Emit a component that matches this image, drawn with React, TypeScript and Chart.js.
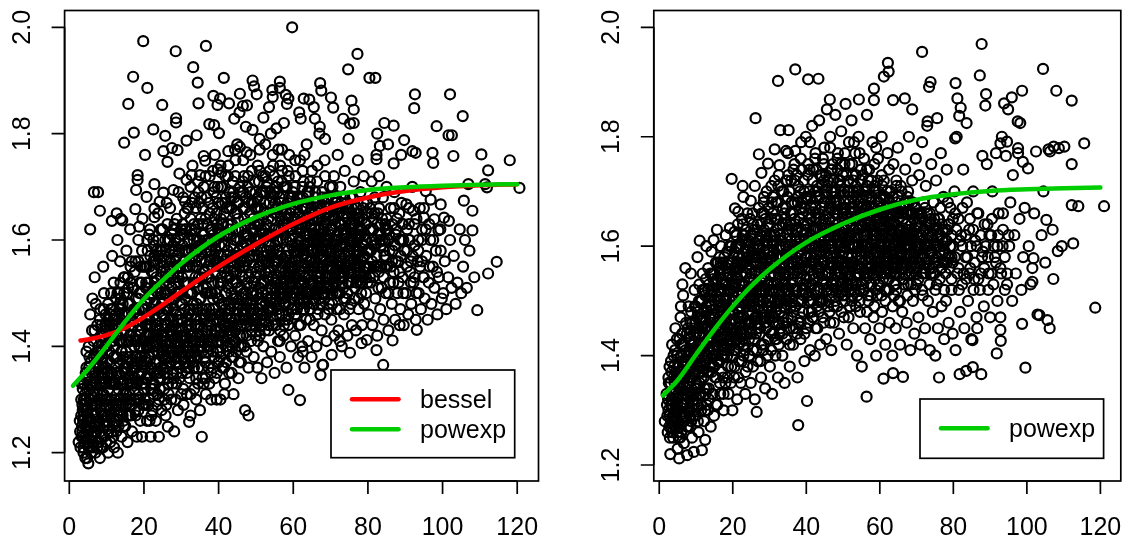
import React, { useEffect, useRef } from "react";
import { Chart, registerables } from "chart.js";

Chart.register(...registerables);

type Pt = [number, number];

// ---------- tick labels ----------
const xTickValues = [0, 20, 40, 60, 80, 100, 120];
const yTickValues = [1.2, 1.4, 1.6, 1.8, 2.0];

// ---------- fitted curves ----------
const powexpAges = [1, 5, 10, 15, 20, 25, 30, 40, 50, 60, 70, 80, 90, 100, 110, 120];
const powexpLeftValues = [1.326, 1.357, 1.401, 1.447, 1.489, 1.524, 1.556, 1.607, 1.643, 1.668, 1.684, 1.694, 1.699, 1.702, 1.704, 1.705];
const besselAges = [3, 5, 10, 15, 20, 25, 30, 40, 50, 60, 70, 80, 90, 100, 110, 120];
const besselLeftValues = [1.411, 1.413, 1.421, 1.435, 1.455, 1.478, 1.503, 1.55, 1.592, 1.63, 1.661, 1.68, 1.692, 1.699, 1.703, 1.705];
const powexpRightValues = [1.327, 1.355, 1.402, 1.448, 1.49, 1.527, 1.558, 1.607, 1.641, 1.667, 1.685, 1.695, 1.701, 1.704, 1.706, 1.707];

// ---------- left panel observations ----------
const left0to10: Pt[] = [[2.5,1.22],[2.8,1.26],[3,1.21],[3.2,1.3],[3.5,1.24],[3.6,1.28],[3.8,1.21],[4,1.33],[4.2,1.25],[4.3,1.23],[4.5,1.3],[4.6,1.36],[4.8,1.19],[5,1.27],[5,1.22],[5.1,1.18],[5.3,1.32],[5.5,1.25],[5.6,1.46],[5.8,1.2],[6,1.29],[6,1.35],[6.2,1.49],[6.3,1.23],[6.5,1.31],[6.5,1.41],[6.7,1.27],[6.8,1.53],[7,1.2],[7,1.34],[7.2,1.25],[7.3,1.38],[7.4,1.29],[7.5,1.44],[7.6,1.22],[7.8,1.32],[7.9,1.4],[8,1.26],[8,1.36],[8.2,1.19],[8.3,1.47],[8.4,1.3],[8.5,1.23],[8.6,1.34],[8.7,1.42],[8.8,1.27],[9,1.21],[9,1.38],[9.2,1.31],[9.3,1.5],[9.4,1.25],[9.5,1.35],[9.6,1.44],[9.8,1.29],[9.9,1.22],[10,1.4],[5.6,1.62],[8.2,1.655],[6.6,1.69],[7.7,1.69],[3.9,1.27],[4.4,1.35],[5.2,1.4],[6.1,1.43],[7.1,1.48],[9.1,1.55],[8.9,1.33],[2.9,1.24],[4.7,1.32],[5.7,1.37],[3.3,1.23],[3.7,1.26],[4.1,1.22],[4.4,1.28],[4.9,1.24],[5.4,1.3],[5.9,1.26],[6.4,1.21],[6.9,1.29],[7.3,1.24],[7.7,1.3],[6.6,1.35],[5.1,1.34],[7.9,1.22],[4.6,1.25],[3.5,1.29]];
const left10to20: Pt[] = [[10.2,1.25],[10.4,1.2],[10.5,1.32],[10.6,1.43],[10.8,1.28],[10.9,1.37],[11,1.22],[11.1,1.47],[11.3,1.3],[11.4,1.636],[11.5,1.35],[11.6,1.25],[11.8,1.41],[11.9,1.52],[12,1.21],[12,1.33],[12.2,1.28],[12.3,1.45],[12.5,1.38],[12.6,1.24],[12.8,1.31],[12.9,1.6],[13,1.42],[13,1.2],[13.2,1.35],[13.3,1.5],[13.5,1.27],[13.6,1.56],[13.8,1.64],[13.9,1.39],[14,1.23],[14.1,1.33],[14.2,1.46],[14.2,1.637],[14.4,1.29],[14.5,1.41],[14.7,1.783],[14.7,1.36],[14.8,1.53],[15,1.25],[15,1.44],[15.2,1.31],[15.3,1.58],[15.5,1.38],[15.6,1.22],[15.8,1.856],[15.8,1.48],[16,1.34],[16,1.27],[16.2,1.42],[16.4,1.55],[16.5,1.3],[16.6,1.37],[16.8,1.24],[16.9,1.45],[17,1.51],[17.1,1.907],[17.1,1.33],[17.3,1.802],[17.4,1.4],[17.6,1.28],[17.7,1.658],[17.8,1.47],[17.9,1.694],[18,1.36],[18.1,1.23],[18.3,1.722],[18.3,1.713],[18.4,1.43],[18.5,1.6],[18.6,1.31],[18.7,1.625],[18.8,1.5],[19,1.38],[19,1.26],[19.2,1.55],[19.3,1.45],[19.5,1.23],[19.5,1.33],[19.6,1.64],[19.8,1.974],[19.8,1.41],[19.9,1.29],[11.5,1.57],[12.7,1.65],[16.3,1.62]];
const left20to30: Pt[] = [[20.2,1.3],[20.3,1.38],[20.5,1.45],[20.6,1.52],[20.8,1.26],[21,1.34],[21,1.58],[21.2,1.42],[21.4,1.49],[21.5,1.3],[21.6,1.62],[21.8,1.36],[21.8,1.23],[22,1.44],[22.1,1.54],[22.3,1.28],[22.4,1.4],[22.5,1.6],[22.7,1.33],[22.8,1.48],[23,1.37],[23,1.56],[23.2,1.26],[23.3,1.44],[23.5,1.51],[23.6,1.31],[23.8,1.65],[23.9,1.39],[24,1.23],[24.1,1.47],[24.3,1.58],[24.4,1.34],[24.6,1.42],[24.7,1.28],[24.8,1.54],[25,1.38],[25,1.62],[25.2,1.46],[25.4,1.32],[25.5,1.5],[25.7,1.41],[25.8,1.27],[26,1.56],[26.1,1.36],[26.3,1.44],[26.4,1.249],[26.5,1.6],[26.6,1.31],[26.8,1.49],[27,1.39],[27,1.66],[27.2,1.53],[27.3,1.3],[27.5,1.43],[27.7,1.58],[27.8,1.35],[28,1.47],[28.1,1.24],[28.2,1.63],[28.4,1.4],[28.5,1.52],[28.7,1.33],[28.8,1.57],[29,1.45],[29.1,1.28],[29.3,1.69],[29.4,1.38],[29.6,1.5],[29.8,1.61],[29.9,1.42],[20.3,1.76],[20.7,1.681],[20.9,1.886],[22.5,1.808],[22.8,1.705],[22.8,1.659],[22.8,1.643],[24.2,1.672],[24.9,1.854],[25.2,1.767],[25.2,1.689],[25.7,1.796],[26.1,1.67],[26.3,1.747],[27.5,1.773],[27.9,1.694],[28.5,1.955],[28.6,1.829],[28.6,1.821],[29,1.769],[29.5,1.725]];
const left30to40: Pt[] = [[30.2,1.35],[30.3,1.48],[30.5,1.56],[30.6,1.29],[30.8,1.42],[31,1.62],[31.1,1.38],[31.3,1.52],[31.5,1.31],[31.6,1.45],[31.8,1.66],[32,1.4],[32,1.58],[32.2,1.34],[32.4,1.5],[32.5,1.27],[32.7,1.44],[32.8,1.62],[33,1.37],[33.1,1.55],[33.3,1.47],[33.5,1.32],[33.6,1.68],[33.8,1.41],[34,1.52],[34,1.3],[34.2,1.6],[34.4,1.44],[34.5,1.36],[34.7,1.57],[34.9,1.49],[35,1.28],[35.2,1.64],[35.3,1.4],[35.5,1.53],[35.7,1.34],[35.8,1.46],[36,1.7],[36.1,1.59],[36.3,1.38],[36.5,1.5],[36.6,1.31],[36.8,1.43],[37,1.63],[37.1,1.55],[37.3,1.36],[37.5,1.47],[37.6,1.72],[37.8,1.41],[38,1.57],[38,1.3],[38.2,1.52],[38.4,1.66],[38.5,1.39],[38.7,1.45],[38.9,1.6],[39,1.34],[39.2,1.5],[39.4,1.68],[39.5,1.43],[39.7,1.56],[39.9,1.37],[31,1.672],[31.4,1.713],[31.4,1.787],[32.8,1.722],[33.2,1.925],[34.1,1.797],[34.4,1.896],[34.6,1.857],[35,1.722],[36,1.758],[36.4,1.749],[36.6,1.965],[37.5,1.818],[38.6,1.871],[38.8,1.816],[39.7,1.854],[39.8,1.733],[32.1,1.258],[35.5,1.23],[39.5,1.3]];
const left40to50: Pt[] = [[40.2,1.42],[40.3,1.55],[40.5,1.3],[40.6,1.64],[40.8,1.48],[41,1.36],[41,1.7],[41.2,1.52],[41.4,1.44],[41.5,1.59],[41.7,1.33],[41.8,1.67],[42,1.5],[42.1,1.4],[42.3,1.57],[42.5,1.46],[42.6,1.74],[42.8,1.35],[43,1.62],[43,1.53],[43.2,1.43],[43.4,1.68],[43.5,1.38],[43.7,1.56],[43.9,1.49],[44,1.31],[44.2,1.6],[44.4,1.45],[44.5,1.72],[44.7,1.39],[44.8,1.54],[45,1.65],[45.1,1.47],[45.3,1.34],[45.5,1.58],[45.6,1.42],[45.8,1.69],[46,1.51],[46,1.37],[46.2,1.62],[46.4,1.46],[46.6,1.75],[46.7,1.55],[46.9,1.4],[47.1,1.28],[47.1,1.66],[47.3,1.5],[47.5,1.59],[47.6,1.44],[47.8,1.7],[48,1.27],[48,1.36],[48.2,1.53],[48.4,1.63],[48.5,1.47],[48.7,1.41],[48.9,1.73],[49,1.57],[49.2,1.5],[49.4,1.38],[49.5,1.67],[49.7,1.44],[49.9,1.6],[40.1,1.801],[40.4,1.866],[41.4,1.905],[40.7,1.727],[42.6,1.767],[42.8,1.857],[44.2,1.828],[44.4,1.77],[45.6,1.84],[45.7,1.875],[45.7,1.775],[46.5,1.852],[47.3,1.813],[47.5,1.765],[47.6,1.853],[49.1,1.9],[49.1,1.807],[49.5,1.889],[41.5,1.31]];
const left50to60: Pt[] = [[50.1,1.45],[50.3,1.58],[50.4,1.36],[50.6,1.66],[50.8,1.51],[51,1.42],[51,1.73],[51.2,1.55],[51.4,1.62],[51.5,1.34],[51.7,1.48],[51.9,1.69],[52,1.4],[52.1,1.57],[52.3,1.52],[52.5,1.78],[52.6,1.45],[52.8,1.63],[53,1.37],[53,1.71],[53.2,1.5],[53.4,1.59],[53.5,1.43],[53.7,1.67],[53.9,1.54],[54,1.8],[54.1,1.39],[54.3,1.61],[54.5,1.47],[54.6,1.74],[54.8,1.56],[55,1.35],[55,1.65],[55.2,1.51],[55.4,1.44],[55.5,1.7],[55.7,1.58],[55.9,1.41],[56,1.77],[56.1,1.62],[56.3,1.5],[56.4,1.38],[56.6,1.67],[56.8,1.55],[57,1.46],[57,1.73],[57.2,1.6],[57.4,1.42],[57.5,1.82],[57.7,1.53],[57.9,1.64],[58,1.48],[58.2,1.36],[58.3,1.7],[58.5,1.57],[58.7,1.318],[58.7,1.44],[58.9,1.76],[59,1.62],[59.2,1.51],[59.4,1.4],[59.5,1.68],[59.7,1.55],[59.9,1.47],[50.2,1.874],[54.4,1.882],[54.5,1.869],[56.4,1.898],[56.4,1.886],[58,1.873],[58.3,1.856],[58.7,1.866],[59.7,2.0],[56.4,1.41],[57.5,1.44],[52,1.83],[53.5,1.85],[51,1.79],[55.5,1.81]];
const left60to70: Pt[] = [[60.2,1.5],[60.3,1.64],[60.5,1.42],[60.6,1.72],[60.8,1.56],[61,1.47],[61.1,1.68],[61.3,1.38],[61.5,1.6],[61.6,1.52],[61.8,1.75],[62,1.44],[62,1.63],[62.2,1.55],[62.4,1.4],[62.5,1.7],[62.7,1.49],[62.9,1.59],[63,1.36],[63.1,1.66],[63.3,1.53],[63.5,1.45],[63.6,1.78],[63.8,1.6],[64,1.41],[64,1.5],[64.2,1.69],[64.4,1.56],[64.5,1.47],[64.7,1.63],[64.9,1.38],[65,1.73],[65.2,1.52],[65.4,1.58],[65.5,1.44],[65.7,1.67],[65.9,1.5],[66,1.61],[66.2,1.4],[66.4,1.71],[66.5,1.55],[66.7,1.47],[66.9,1.64],[67,1.8],[67.1,1.52],[67.3,1.346],[67.5,1.58],[67.6,1.43],[67.8,1.68],[68,1.365],[68,1.5],[68.2,1.62],[68.4,1.75],[68.5,1.46],[68.7,1.56],[68.9,1.41],[69,1.66],[69.2,1.53],[69.4,1.6],[69.6,1.48],[69.8,1.7],[61.6,1.84],[62,1.828],[62.8,1.866],[64.3,1.864],[65.8,1.828],[67.1,1.813],[67.2,1.895],[67.5,1.881],[65.5,1.85],[68.5,1.79],[61.8,1.299],[67.8,1.365],[62.5,1.39]];
const left70to80: Pt[] = [[70.2,1.45],[70.4,1.57],[70.5,1.64],[70.7,1.51],[70.9,1.72],[71,1.42],[71.2,1.6],[71.4,1.54],[71.5,1.68],[71.7,1.47],[71.9,1.76],[72,1.58],[72.1,1.43],[72.3,1.63],[72.5,1.5],[72.6,1.7],[72.8,1.55],[73,1.4],[73,1.66],[73.2,1.52],[73.4,1.61],[73.6,1.46],[73.8,1.73],[74,1.57],[74.1,1.49],[74.3,1.65],[74.5,1.42],[74.6,1.54],[74.8,1.79],[75,1.6],[75,1.47],[75.3,1.68],[75.5,1.52],[75.7,1.44],[75.8,1.63],[76,1.56],[76.2,1.71],[76.4,1.49],[76.6,1.59],[76.8,1.43],[77,1.66],[77,1.53],[77.3,1.75],[77.5,1.47],[77.6,1.61],[77.8,1.55],[78,1.69],[78.2,1.5],[78.4,1.44],[78.5,1.64],[78.7,1.57],[78.9,1.72],[79,1.48],[79.3,1.6],[79.5,1.53],[79.8,1.67],[70.1,1.868],[70.7,1.849],[73.4,1.828],[74.7,1.921],[75.2,1.819],[75.6,1.862],[76.2,1.82],[76.2,1.845],[77.2,1.95],[70.3,1.384],[75.2,1.388],[78.3,1.406],[79.7,1.412],[72.5,1.41]];
const left80to90: Pt[] = [[80.2,1.46],[80.4,1.58],[80.6,1.66],[80.8,1.52],[81,1.71],[81.2,1.44],[81.4,1.62],[81.6,1.55],[81.8,1.68],[82,1.49],[82.2,1.6],[82.5,1.42],[82.7,1.65],[82.9,1.54],[83,1.72],[83.3,1.47],[83.5,1.59],[83.7,1.51],[84,1.68],[84.2,1.45],[84.4,1.57],[84.6,1.63],[84.8,1.5],[85,1.7],[85.2,1.55],[85.5,1.43],[85.7,1.61],[85.9,1.52],[86.1,1.66],[86.4,1.48],[86.6,1.58],[86.9,1.54],[87.1,1.69],[87.3,1.45],[87.6,1.62],[87.9,1.5],[88.1,1.56],[88.4,1.65],[88.7,1.47],[89,1.6],[89.3,1.53],[89.6,1.44],[80.4,1.905],[82,1.905],[82.5,1.8],[83.2,1.777],[82.3,1.752],[82.3,1.76],[84.4,1.82],[85.4,1.78],[86.9,1.815],[86.9,1.744],[88.9,1.76],[89.7,1.788],[89.4,1.63],[82.3,1.393],[84.1,1.365],[86.6,1.411],[88.5,1.44]];
const left90to100: Pt[] = [[90.2,1.5],[90.5,1.58],[90.8,1.46],[91,1.63],[91.3,1.54],[91.6,1.48],[91.9,1.7],[92.2,1.52],[92.5,1.59],[92.8,1.45],[93.1,1.431],[93.3,1.56],[93.6,1.5],[93.9,1.66],[94.2,1.47],[94.5,1.6],[94.8,1.53],[95.2,1.49],[95.6,1.57],[96,1.45],[96.3,1.52],[96.7,1.6],[97,1.48],[97.4,1.55],[97.8,1.51],[98.2,1.58],[98.6,1.46],[99,1.53],[99.4,1.62],[99.8,1.49],[90.3,1.667],[91.2,1.6],[91.9,1.767],[92.8,1.764],[92.4,1.848],[92.6,1.874],[92.1,1.655],[95,1.642],[95.5,1.692],[96.4,1.63],[96.8,1.676],[97.3,1.764],[97.5,1.745],[97.8,1.639],[98.4,1.814],[98.9,1.618],[99.5,1.667]];
const left100to110: Pt[] = [[100.2,1.5],[100.6,1.56],[101,1.47],[101.5,1.53],[102,1.6],[102.4,1.51],[103,1.57],[103.5,1.48],[104,1.52],[104.6,1.62],[105,1.5],[105.5,1.55],[106,1.6],[106.5,1.51],[107.2,1.58],[108.5,1.53],[100.4,1.642],[101.6,1.797],[102.5,1.797],[102,1.874],[101.7,1.636],[102.9,1.758],[105.4,1.833],[105.7,1.674],[106.9,1.705],[108,1.655],[108,1.618],[109.3,1.468]];
const left110to125: Pt[] = [[110.4,1.761],[111.4,1.705],[111.9,1.699],[112.2,1.731],[112.2,1.537],[114.5,1.559],[118,1.75],[120.6,1.698]];
const leftCore8to30: Pt[] = [[8.1,1.25],[8.3,1.39],[8.6,1.44],[8.8,1.31],[8.4,1.28],[8.7,1.35],[9.1,1.27],[9.3,1.42],[9.5,1.33],[9.7,1.46],[9.2,1.36],[9.8,1.26],[10.1,1.3],[10.3,1.45],[10.5,1.24],[10.7,1.39],[10.9,1.34],[10.4,1.48],[11.1,1.27],[11.3,1.41],[11.5,1.33],[11.7,1.45],[11.9,1.38],[11.2,1.5],[12.1,1.3],[12.3,1.36],[12.5,1.49],[12.7,1.42],[12.9,1.27],[12.4,1.33],[13.1,1.44],[13.3,1.29],[13.5,1.37],[13.7,1.52],[13.9,1.33],[13.4,1.47],[14.1,1.39],[14.3,1.48],[14.5,1.31],[14.7,1.43],[14.9,1.35],[14.6,1.53],[15.1,1.29],[15.3,1.41],[15.5,1.5],[15.7,1.34],[15.9,1.46],[15.4,1.37],[16.1,1.31],[16.3,1.48],[16.5,1.41],[16.7,1.56],[16.9,1.35],[16.4,1.52],[17.1,1.44],[17.3,1.3],[17.5,1.54],[17.7,1.38],[17.9,1.49],[17.6,1.34],[18.1,1.33],[18.3,1.46],[18.5,1.56],[18.7,1.4],[18.9,1.52],[18.4,1.37],[19.1,1.43],[19.3,1.35],[19.5,1.58],[19.7,1.47],[19.9,1.32],[19.4,1.52],[20.1,1.41],[20.3,1.55],[20.5,1.34],[20.7,1.48],[20.9,1.6],[20.4,1.44],[20.8,1.37],[21.1,1.52],[21.3,1.38],[21.5,1.45],[21.7,1.57],[21.9,1.32],[21.4,1.61],[21.6,1.4],[22.1,1.36],[22.3,1.5],[22.5,1.42],[22.7,1.59],[22.9,1.46],[22.4,1.33],[22.6,1.54],[23.1,1.4],[23.3,1.53],[23.5,1.35],[23.7,1.47],[23.9,1.6],[23.4,1.43],[23.8,1.57],[24.1,1.37],[24.3,1.51],[24.5,1.62],[24.7,1.44],[24.9,1.39],[24.4,1.56],[24.8,1.48],[25.1,1.42],[25.3,1.55],[25.5,1.35],[25.7,1.6],[25.9,1.47],[25.4,1.52],[25.8,1.38],[26.1,1.5],[26.3,1.63],[26.5,1.4],[26.7,1.55],[26.9,1.45],[26.4,1.34],[26.8,1.58],[27.1,1.37],[27.3,1.48],[27.5,1.61],[27.7,1.42],[27.9,1.55],[27.4,1.51],[27.8,1.45],[28.1,1.53],[28.3,1.38],[28.5,1.6],[28.7,1.46],[28.9,1.42],[28.4,1.56],[28.8,1.64],[29.1,1.41],[29.3,1.54],[29.5,1.36],[29.7,1.48],[29.9,1.62],[29.4,1.58],[29.8,1.45]];
const leftCore30to55: Pt[] = [[30.1,1.45],[30.3,1.59],[30.5,1.38],[30.7,1.52],[30.9,1.65],[30.4,1.42],[30.8,1.56],[31.1,1.49],[31.3,1.62],[31.5,1.4],[31.7,1.55],[31.9,1.46],[31.4,1.36],[31.8,1.6],[32.1,1.43],[32.3,1.55],[32.5,1.64],[32.7,1.38],[32.9,1.5],[32.4,1.47],[32.8,1.58],[33.1,1.4],[33.3,1.6],[33.5,1.52],[33.7,1.44],[33.9,1.66],[33.4,1.36],[33.8,1.56],[34.1,1.48],[34.3,1.38],[34.5,1.63],[34.7,1.53],[34.9,1.42],[34.4,1.58],[34.8,1.67],[35.1,1.45],[35.3,1.56],[35.5,1.39],[35.7,1.61],[35.9,1.51],[35.4,1.68],[35.8,1.43],[36.1,1.41],[36.3,1.54],[36.5,1.64],[36.7,1.47],[36.9,1.58],[36.4,1.37],[36.8,1.51],[37.1,1.5],[37.3,1.6],[37.5,1.4],[37.7,1.56],[37.9,1.44],[37.4,1.67],[37.8,1.62],[38.1,1.43],[38.3,1.59],[38.5,1.49],[38.7,1.69],[38.9,1.38],[38.4,1.55],[38.8,1.64],[39.1,1.46],[39.3,1.56],[39.5,1.65],[39.7,1.41],[39.9,1.52],[39.4,1.6],[39.8,1.7],[40.1,1.49],[40.3,1.61],[40.5,1.43],[40.7,1.57],[40.9,1.67],[40.4,1.39],[40.8,1.53],[41.1,1.45],[41.3,1.56],[41.5,1.65],[41.7,1.5],[41.9,1.41],[41.4,1.61],[41.8,1.72],[42.1,1.53],[42.3,1.43],[42.5,1.63],[42.7,1.48],[42.9,1.69],[42.4,1.58],[42.8,1.39],[43.1,1.47],[43.3,1.59],[43.5,1.66],[43.7,1.42],[43.9,1.54],[43.4,1.5],[43.8,1.71],[44.1,1.55],[44.3,1.41],[44.5,1.62],[44.7,1.49],[44.9,1.67],[44.4,1.57],[44.8,1.44],[45.1,1.51],[45.3,1.62],[45.5,1.45],[45.7,1.7],[45.9,1.56],[45.4,1.4],[45.8,1.6],[46.1,1.44],[46.3,1.57],[46.5,1.66],[46.7,1.5],[46.9,1.61],[46.4,1.53],[46.8,1.72],[47.1,1.55],[47.3,1.63],[47.5,1.42],[47.7,1.52],[47.9,1.67],[47.4,1.47],[47.8,1.58],[48.1,1.45],[48.3,1.6],[48.5,1.69],[48.7,1.54],[48.9,1.43],[48.4,1.65],[48.8,1.5],[49.1,1.48],[49.3,1.62],[49.5,1.55],[49.7,1.71],[49.9,1.42],[49.4,1.58],[49.8,1.66],[50.1,1.54],[50.3,1.46],[50.5,1.68],[50.7,1.6],[50.9,1.43],[50.4,1.63],[50.8,1.71],[51.1,1.48],[51.3,1.66],[51.5,1.56],[51.7,1.44],[51.9,1.61],[51.4,1.52],[51.8,1.72],[52.1,1.6],[52.3,1.45],[52.5,1.54],[52.7,1.69],[52.9,1.49],[52.4,1.65],[52.8,1.58],[53.1,1.47],[53.3,1.64],[53.5,1.56],[53.7,1.73],[53.9,1.51],[53.4,1.44],[53.8,1.61],[54.1,1.57],[54.3,1.49],[54.5,1.68],[54.7,1.45],[54.9,1.62],[54.4,1.53],[54.8,1.72]];
const leftCore55to85: Pt[] = [[55.1,1.5],[55.3,1.62],[55.5,1.56],[55.7,1.69],[55.9,1.47],[55.4,1.66],[55.8,1.53],[56.1,1.58],[56.3,1.46],[56.5,1.64],[56.7,1.52],[56.9,1.71],[56.4,1.6],[56.8,1.49],[57.1,1.53],[57.3,1.66],[57.5,1.49],[57.7,1.61],[57.9,1.57],[57.4,1.7],[57.8,1.45],[58.1,1.6],[58.3,1.51],[58.5,1.67],[58.7,1.55],[58.9,1.48],[58.4,1.63],[58.8,1.72],[59.1,1.55],[59.3,1.65],[59.5,1.47],[59.7,1.59],[59.9,1.69],[59.4,1.52],[59.8,1.62],[60.1,1.58],[60.3,1.49],[60.5,1.66],[60.7,1.53],[60.9,1.62],[60.4,1.7],[60.8,1.46],[61.1,1.51],[61.3,1.63],[61.5,1.56],[61.7,1.68],[61.9,1.48],[61.4,1.59],[61.8,1.54],[62.1,1.6],[62.3,1.52],[62.5,1.66],[62.7,1.57],[62.9,1.47],[62.4,1.63],[62.8,1.71],[63.1,1.55],[63.3,1.61],[63.5,1.5],[63.7,1.67],[63.9,1.58],[63.4,1.64],[63.8,1.48],[64.1,1.53],[64.3,1.65],[64.5,1.59],[64.7,1.5],[64.9,1.62],[64.4,1.7],[64.8,1.56],[65.1,1.6],[65.3,1.49],[65.5,1.64],[65.7,1.55],[65.9,1.68],[65.4,1.52],[65.8,1.61],[66.1,1.56],[66.3,1.64],[66.5,1.51],[66.7,1.6],[66.9,1.49],[66.4,1.67],[66.8,1.58],[67.1,1.62],[67.3,1.54],[67.5,1.66],[67.7,1.5],[67.9,1.59],[67.4,1.57],[67.8,1.69],[68.1,1.55],[68.3,1.6],[68.5,1.67],[68.7,1.52],[68.9,1.63],[68.4,1.49],[68.8,1.58],[69.1,1.58],[69.3,1.51],[69.5,1.64],[69.7,1.56],[69.9,1.62],[69.4,1.68],[69.8,1.53],[70.1,1.55],[70.3,1.62],[70.5,1.5],[70.7,1.66],[70.9,1.59],[70.4,1.53],[71.1,1.57],[71.3,1.64],[71.5,1.52],[71.7,1.61],[71.9,1.55],[71.4,1.67],[72.1,1.6],[72.3,1.53],[72.5,1.66],[72.7,1.57],[72.9,1.63],[72.4,1.5],[73.1,1.56],[73.3,1.62],[73.5,1.54],[73.7,1.68],[73.9,1.59],[73.4,1.51],[74.1,1.61],[74.3,1.55],[74.5,1.64],[74.7,1.52],[74.9,1.58],[74.4,1.67],[75.1,1.56],[75.3,1.62],[75.5,1.59],[75.7,1.66],[75.9,1.53],[76.1,1.6],[76.3,1.54],[76.5,1.63],[76.7,1.57],[76.9,1.65],[77.1,1.58],[77.3,1.62],[77.5,1.55],[77.7,1.64],[77.9,1.52],[78.1,1.61],[78.3,1.56],[78.5,1.59],[78.7,1.66],[78.9,1.54],[79.1,1.57],[79.3,1.63],[79.5,1.6],[79.7,1.55],[79.9,1.65],[80.3,1.58],[80.7,1.62],[81.1,1.56],[81.5,1.64],[81.9,1.59],[82.3,1.57],[82.7,1.61],[83.1,1.55],[83.5,1.63],[83.9,1.6],[84.3,1.58],[84.7,1.62]];
const leftDense3to30: Pt[] = [[3.4,1.25],[3.6,1.32],[3.8,1.2],[3.2,1.27],[3.9,1.3],[4.1,1.29],[4.3,1.19],[4.5,1.34],[4.7,1.22],[4.9,1.28],[5.1,1.24],[5.3,1.36],[5.5,1.21],[5.7,1.31],[5.9,1.33],[6.1,1.22],[6.3,1.28],[6.5,1.38],[6.7,1.24],[6.9,1.34],[7.1,1.27],[7.3,1.33],[7.5,1.21],[7.7,1.39],[7.9,1.35],[8.1,1.33],[8.3,1.24],[8.5,1.41],[8.7,1.29],[8.9,1.37],[9.1,1.34],[9.3,1.23],[9.5,1.4],[9.7,1.3],[9.9,1.43],[10.1,1.37],[10.3,1.27],[10.5,1.42],[10.7,1.33],[10.9,1.46],[11.1,1.35],[11.3,1.24],[11.5,1.44],[11.7,1.29],[11.9,1.4],[12.1,1.4],[12.3,1.26],[12.5,1.46],[12.7,1.35],[12.9,1.5],[13.1,1.32],[13.3,1.41],[13.5,1.48],[13.7,1.28],[13.9,1.45],[14.1,1.44],[14.3,1.27],[14.5,1.38],[14.7,1.5],[14.9,1.32],[15.1,1.36],[15.3,1.46],[15.5,1.3],[15.7,1.53],[15.9,1.41],[16.1,1.38],[16.3,1.29],[16.5,1.45],[16.7,1.33],[16.9,1.51],[17.1,1.36],[17.3,1.47],[17.5,1.32],[17.7,1.56],[17.9,1.42],[18.1,1.41],[18.3,1.3],[18.5,1.49],[18.7,1.35],[18.9,1.44],[19.1,1.37],[19.3,1.5],[19.5,1.41],[19.7,1.33],[19.9,1.55],[20.1,1.47],[20.3,1.33],[20.5,1.51],[20.7,1.4],[20.9,1.44],[21.1,1.35],[21.3,1.46],[21.5,1.55],[21.7,1.42],[21.9,1.5],[22.1,1.47],[22.3,1.39],[22.5,1.56],[22.7,1.35],[22.9,1.52],[23.1,1.48],[23.3,1.37],[23.5,1.58],[23.7,1.42],[23.9,1.34],[24.1,1.43],[24.3,1.35],[24.5,1.5],[24.7,1.58],[24.9,1.46],[25.1,1.49],[25.3,1.39],[25.5,1.57],[25.7,1.45],[25.9,1.54],[26.1,1.41],[26.3,1.53],[26.5,1.47],[26.7,1.37],[26.9,1.6],[27.1,1.56],[27.3,1.42],[27.5,1.51],[27.7,1.39],[27.9,1.62],[28.1,1.44],[28.3,1.58],[28.5,1.5],[28.7,1.37],[28.9,1.55],[29.1,1.5],[29.3,1.43],[29.5,1.6],[29.7,1.55],[29.9,1.39]];
const leftDense30to60: Pt[] = [[30.2,1.53],[30.4,1.63],[30.6,1.4],[30.8,1.47],[30.9,1.58],[31.2,1.42],[31.4,1.58],[31.6,1.66],[31.8,1.5],[31.9,1.39],[32.2,1.56],[32.4,1.42],[32.6,1.61],[32.8,1.46],[32.9,1.67],[33.2,1.48],[33.4,1.63],[33.6,1.39],[33.8,1.53],[33.9,1.58],[34.2,1.55],[34.4,1.47],[34.6,1.69],[34.8,1.4],[34.9,1.6],[35.2,1.49],[35.4,1.59],[35.6,1.42],[35.8,1.66],[35.9,1.54],[36.2,1.61],[36.4,1.46],[36.6,1.56],[36.8,1.68],[36.9,1.4],[37.2,1.44],[37.4,1.53],[37.6,1.65],[37.8,1.5],[37.9,1.58],[38.2,1.62],[38.4,1.41],[38.6,1.47],[38.8,1.57],[38.9,1.7],[39.2,1.54],[39.4,1.45],[39.6,1.63],[39.8,1.49],[39.9,1.67],[40.2,1.59],[40.4,1.46],[40.6,1.7],[40.8,1.41],[40.9,1.55],[41.2,1.63],[41.4,1.48],[41.6,1.54],[41.8,1.44],[41.9,1.68],[42.2,1.46],[42.4,1.61],[42.6,1.55],[42.8,1.66],[42.9,1.42],[43.2,1.56],[43.4,1.45],[43.6,1.63],[43.8,1.52],[43.9,1.69],[44.2,1.48],[44.4,1.65],[44.6,1.43],[44.8,1.6],[44.9,1.52],[45.2,1.57],[45.4,1.67],[45.6,1.48],[45.8,1.54],[45.9,1.44],[46.2,1.59],[46.4,1.47],[46.6,1.69],[46.8,1.56],[46.9,1.64],[47.2,1.45],[47.4,1.61],[47.6,1.56],[47.8,1.49],[47.9,1.72],[48.2,1.57],[48.4,1.48],[48.6,1.62],[48.8,1.67],[48.9,1.46],[49.2,1.64],[49.4,1.52],[49.6,1.45],[49.8,1.59],[49.9,1.69],[50.2,1.5],[50.4,1.66],[50.6,1.57],[50.8,1.47],[50.9,1.63],[51.2,1.6],[51.4,1.69],[51.6,1.5],[51.8,1.56],[51.9,1.46],[52.2,1.52],[52.4,1.62],[52.6,1.48],[52.8,1.7],[52.9,1.57],[53.2,1.61],[53.4,1.54],[53.6,1.67],[53.8,1.49],[53.9,1.58],[54.2,1.51],[54.4,1.64],[54.6,1.58],[54.8,1.48],[54.9,1.69],[55.2,1.59],[55.4,1.49],[55.6,1.65],[55.8,1.56],[55.9,1.71],[56.2,1.54],[56.4,1.68],[56.6,1.5],[56.8,1.62],[56.9,1.57],[57.2,1.63],[57.4,1.51],[57.6,1.56],[57.8,1.7],[57.9,1.48],[58.2,1.57],[58.4,1.5],[58.6,1.64],[58.8,1.53],[58.9,1.68],[59.2,1.6],[59.4,1.66],[59.6,1.49],[59.8,1.56],[59.9,1.52]];
const leftDense60to95: Pt[] = [[60.2,1.61],[60.4,1.55],[60.6,1.5],[60.8,1.67],[60.9,1.59],[61.2,1.57],[61.4,1.65],[61.6,1.49],[61.8,1.62],[61.9,1.54],[62.2,1.5],[62.4,1.58],[62.6,1.68],[62.8,1.54],[62.9,1.61],[63.2,1.63],[63.4,1.51],[63.6,1.57],[63.8,1.69],[63.9,1.55],[64.2,1.56],[64.4,1.61],[64.6,1.52],[64.8,1.66],[64.9,1.5],[65.2,1.64],[65.4,1.55],[65.6,1.6],[65.8,1.51],[65.9,1.69],[66.2,1.53],[66.4,1.58],[66.6,1.66],[66.8,1.52],[66.9,1.62],[67.2,1.6],[67.4,1.51],[67.6,1.64],[67.8,1.55],[67.9,1.58],[68.2,1.57],[68.4,1.65],[68.6,1.53],[68.8,1.61],[68.9,1.68],[69.2,1.55],[69.4,1.6],[69.6,1.66],[69.8,1.51],[69.9,1.58],[70.2,1.62],[70.4,1.56],[70.6,1.52],[70.8,1.64],[70.9,1.6],[71.2,1.54],[71.4,1.6],[71.6,1.66],[71.8,1.58],[71.9,1.5],[72.2,1.57],[72.4,1.63],[72.6,1.54],[72.8,1.6],[72.9,1.67],[73.2,1.59],[73.4,1.53],[73.6,1.65],[73.8,1.57],[73.9,1.62],[74.2,1.55],[74.4,1.61],[74.6,1.58],[74.8,1.66],[74.9,1.52],[75.2,1.63],[75.4,1.57],[75.6,1.54],[75.8,1.6],[75.9,1.68],[76.2,1.58],[76.4,1.64],[76.6,1.55],[76.8,1.61],[76.9,1.52],[77.2,1.6],[77.4,1.57],[77.6,1.65],[77.8,1.54],[77.9,1.62],[78.2,1.56],[78.4,1.62],[78.6,1.53],[78.8,1.59],[78.9,1.67],[79.2,1.61],[79.4,1.55],[79.6,1.63],[79.8,1.58],[79.9,1.52],[80.2,1.55],[80.5,1.62],[80.8,1.58],[81.2,1.6],[81.5,1.53],[81.8,1.65],[82.2,1.57],[82.5,1.63],[82.8,1.51],[83.2,1.6],[83.5,1.55],[83.8,1.64],[84.2,1.53],[84.5,1.6],[84.8,1.57],[85.2,1.62],[85.5,1.5],[85.8,1.58],[86.2,1.55],[86.5,1.63],[86.8,1.52],[87.2,1.59],[87.5,1.56],[87.8,1.64],[88.2,1.52],[88.5,1.6],[88.8,1.57],[89.2,1.63],[89.5,1.5],[89.8,1.58],[90.5,1.55],[91,1.6],[91.5,1.52],[92,1.57],[92.5,1.63],[93,1.5],[93.5,1.58],[94,1.55],[94.5,1.62],[95,1.53]];
const leftExtra3to20: Pt[] = [[3.3,1.33],[3.7,1.23],[4.2,1.31],[4.6,1.39],[4.8,1.26],[5.2,1.21],[5.4,1.38],[5.8,1.29],[6.2,1.33],[6.6,1.25],[6.8,1.43],[7.2,1.37],[7.6,1.31],[7.8,1.26],[8.2,1.45],[8.6,1.21],[8.8,1.39],[9.2,1.47],[9.6,1.27],[9.8,1.36],[10.2,1.35],[10.6,1.29],[10.8,1.44],[11.2,1.33],[11.6,1.47],[11.8,1.23],[12.2,1.43],[12.6,1.29],[12.8,1.38],[13.2,1.25],[13.6,1.41],[13.8,1.49],[14.2,1.35],[14.6,1.25],[14.8,1.46],[15.2,1.39],[15.6,1.27],[15.8,1.51],[16.2,1.33],[16.6,1.43],[16.8,1.29],[17.2,1.51],[17.6,1.41],[17.8,1.27],[18.2,1.38],[18.6,1.47],[18.8,1.3],[19.2,1.4],[19.6,1.29],[19.8,1.47]];
const leftExtra20to40: Pt[] = [[20.2,1.36],[20.6,1.42],[20.8,1.55],[21.2,1.29],[21.6,1.49],[21.8,1.44],[22.2,1.41],[22.6,1.31],[22.8,1.57],[23.2,1.45],[23.6,1.39],[23.8,1.5],[24.2,1.32],[24.6,1.53],[24.8,1.41],[25.2,1.36],[25.6,1.44],[25.8,1.58],[26.2,1.47],[26.6,1.38],[26.8,1.52],[27.2,1.41],[27.6,1.33],[27.8,1.59],[28.2,1.49],[28.6,1.43],[28.8,1.35],[29.2,1.53],[29.6,1.46],[29.8,1.4],[30.2,1.43],[30.6,1.61],[30.8,1.37],[31.2,1.55],[31.6,1.44],[31.8,1.52],[32.2,1.38],[32.6,1.5],[32.8,1.41],[33.2,1.57],[33.6,1.45],[33.8,1.62],[34.2,1.42],[34.6,1.51],[34.8,1.59],[35.2,1.41],[35.6,1.47],[35.8,1.63],[36.2,1.45],[36.6,1.6],[36.8,1.53],[37.2,1.39],[37.6,1.58],[37.8,1.46],[38.2,1.5],[38.6,1.61],[38.8,1.42],[39.2,1.58],[39.6,1.39],[39.8,1.62]];
const leftExtra40to78: Pt[] = [[40.2,1.45],[40.6,1.52],[40.8,1.63],[41.2,1.42],[41.6,1.59],[41.8,1.47],[42.2,1.66],[42.6,1.51],[42.8,1.44],[43.2,1.61],[43.6,1.4],[43.8,1.57],[44.2,1.68],[44.6,1.52],[44.8,1.46],[45.2,1.64],[45.6,1.55],[45.8,1.42],[46.2,1.49],[46.6,1.59],[46.8,1.45],[47.2,1.68],[47.6,1.48],[47.8,1.61],[48.2,1.51],[48.6,1.44],[48.8,1.58],[49.2,1.47],[49.6,1.63],[49.8,1.53],[50.2,1.6],[50.6,1.49],[50.8,1.55],[51.2,1.45],[51.6,1.64],[51.8,1.5],[52.2,1.67],[52.6,1.56],[52.8,1.46],[53.2,1.53],[53.6,1.59],[53.8,1.69],[54.2,1.47],[54.6,1.61],[54.8,1.55],[55.2,1.67],[55.6,1.52],[55.8,1.6],[56.2,1.48],[56.6,1.57],[56.8,1.66],[57.2,1.5],[57.6,1.63],[57.8,1.54],[58.2,1.65],[58.6,1.58],[58.8,1.46],[59.2,1.53],[59.6,1.62],[59.8,1.68],[60.2,1.53],[60.6,1.64],[60.8,1.58],[61.2,1.67],[61.6,1.52],[61.8,1.58],[62.2,1.64],[62.6,1.49],[62.8,1.59],[63.2,1.53],[63.6,1.66],[63.8,1.61],[64.2,1.5],[64.6,1.63],[64.8,1.58],[65.2,1.55],[65.6,1.67],[65.8,1.62],[66.2,1.6],[66.6,1.54],[66.8,1.65],[67.2,1.52],[67.6,1.61],[67.8,1.57],[68.2,1.63],[68.6,1.59],[68.8,1.51],[69.2,1.65],[69.6,1.55],[69.8,1.61],[70.2,1.58],[70.6,1.68],[71.2,1.63],[71.6,1.56],[72.2,1.65],[72.6,1.59],[73.2,1.53],[73.6,1.61],[74.2,1.66],[74.6,1.56],[75.2,1.6],[75.6,1.65],[76.2,1.56],[76.6,1.61],[77.2,1.64],[77.6,1.58]];
const leftFillLow: Pt[] = [[12.5,1.25],[13.5,1.3],[14.5,1.26],[15.5,1.33],[16.5,1.27],[17.5,1.36],[18.5,1.28],[19.5,1.38],[20.5,1.29],[21.5,1.26],[22.5,1.32],[23.5,1.29],[24.5,1.36],[25.5,1.3],[26.5,1.33],[27.5,1.38],[28.5,1.3],[29.5,1.34],[30.5,1.32],[31.5,1.35],[32.5,1.31],[33.5,1.38],[34.5,1.33],[35.5,1.36],[36.5,1.34],[37.5,1.33],[38.5,1.36],[39.5,1.35],[40.5,1.38],[41.5,1.36],[42.5,1.4],[43.5,1.35],[44.5,1.41],[45.5,1.37],[46.5,1.42],[47.5,1.39],[20,1.32],[22,1.27],[24,1.3],[26,1.29],[28,1.34],[30,1.31],[32,1.36],[34,1.34],[36,1.33],[38,1.35],[40,1.37],[42,1.37],[44,1.38],[46,1.4],[21,1.4],[23,1.42],[25,1.4],[27,1.43],[29,1.39],[31,1.41],[33,1.42],[35,1.44],[37,1.41],[39,1.43],[41,1.46],[43,1.44],[45,1.48],[47,1.46]];
const leftFillMid: Pt[] = [[50.5,1.41],[51.5,1.46],[52.5,1.43],[53.5,1.47],[54.5,1.44],[55.5,1.46],[56.5,1.43],[57.5,1.48],[58.5,1.45],[59.5,1.49],[60.5,1.46],[61.5,1.44],[62.5,1.47],[63.5,1.49],[64.5,1.45],[65.5,1.48],[66.5,1.46],[67.5,1.48],[68.5,1.5],[69.5,1.47],[70.5,1.48],[71.5,1.5],[72.5,1.47],[73.5,1.49],[74.5,1.5],[75.5,1.48],[76.5,1.51],[77.5,1.49],[78.5,1.52],[79.5,1.5],[51,1.51],[53,1.53],[55,1.52],[57,1.51],[59,1.54],[61,1.53],[63,1.52],[65,1.54],[67,1.53],[69,1.55],[71,1.53],[73,1.55],[75,1.54],[77,1.52],[79,1.55]];
const leftFillRight: Pt[] = [[80.5,1.53],[81.5,1.59],[82.5,1.55],[83.5,1.61],[84.5,1.55],[85.5,1.6],[86.5,1.56],[87.5,1.61],[88.5,1.54],[89.5,1.6],[90.5,1.62],[91.5,1.56],[92.5,1.53],[93.5,1.6],[94.5,1.56],[95.5,1.62],[96.5,1.55],[97.5,1.6],[98.5,1.54],[99.5,1.58],[81,1.65],[83,1.66],[85,1.64],[87,1.66],[89,1.67],[91,1.66],[93,1.64],[95,1.66]];
const leftFillHigh: Pt[] = [[30.5,1.68],[32.5,1.7],[34.5,1.71],[36.5,1.72],[38.5,1.73],[40.5,1.74],[42.5,1.72],[44.5,1.75],[46.5,1.71],[48.5,1.76],[50.5,1.74],[52.5,1.72],[54.5,1.76],[56.5,1.74],[58.5,1.73],[60.5,1.75],[62.5,1.73],[64.5,1.71],[66.5,1.74],[68.5,1.72],[70.5,1.7],[33,1.74],[39,1.76],[45,1.78],[51,1.77],[57,1.77],[63,1.76]];

// ---------- right panel observations ----------
const right0to10: Pt[] = [[1.5,1.28],[2,1.33],[2.3,1.26],[2.5,1.3],[2.8,1.38],[3,1.22],[3.1,1.35],[3.3,1.27],[3.5,1.42],[3.6,1.31],[3.8,1.25],[4,1.38],[4.1,1.29],[4.3,1.34],[4.4,1.45],[4.6,1.27],[4.8,1.4],[5,1.32],[5,1.23],[5.2,1.36],[5.4,1.212],[5.5,1.43],[5.6,1.29],[5.8,1.47],[6,1.34],[6,1.26],[6.2,1.39],[6.4,1.31],[6.5,1.51],[6.7,1.24],[6.8,1.42],[7,1.36],[7.2,1.29],[7.3,1.46],[7.5,1.33],[7.6,1.218],[7.7,1.4],[7.9,1.27],[8,1.49],[8.1,1.35],[8.3,1.43],[8.4,1.3],[8.6,1.55],[8.7,1.38],[8.9,1.25],[9,1.46],[9.2,1.33],[9.3,1.41],[9.4,1.224],[9.6,1.52],[9.7,1.37],[9.9,1.29],[6.3,1.53],[7.1,1.56],[5.9,1.49],[4.9,1.26],[3.9,1.33]];
const right10to20: Pt[] = [[10.1,1.44],[10.2,1.32],[10.4,1.58],[10.5,1.38],[10.7,1.26],[10.8,1.5],[11,1.35],[11,1.61],[11.2,1.42],[11.4,1.3],[11.5,1.47],[11.6,1.227],[11.8,1.55],[11.9,1.37],[12.1,1.44],[12.2,1.28],[12.4,1.52],[12.5,1.246],[12.6,1.4],[12.8,1.6],[12.9,1.34],[13,1.48],[13.2,1.3],[13.3,1.56],[13.5,1.43],[13.6,1.37],[13.8,1.51],[14,1.27],[14,1.45],[14.2,1.59],[14.4,1.33],[14.5,1.4],[14.7,1.54],[14.8,1.611],[14.9,1.29],[15.1,1.47],[15.2,1.36],[15.4,1.57],[15.6,1.42],[15.7,1.63],[15.8,1.31],[16,1.5],[16.1,1.39],[16.3,1.56],[16.4,1.45],[16.6,1.33],[16.8,1.6],[16.9,1.48],[17,1.37],[17.2,1.53],[17.4,1.42],[17.5,1.3],[17.7,1.58],[17.8,1.46],[18,1.35],[18.1,1.62],[18.3,1.51],[18.5,1.4],[18.6,1.55],[18.8,1.33],[19,1.48],[19.1,1.6],[19.2,1.633],[19.4,1.43],[19.6,1.38],[19.7,1.723],[19.8,1.53],[19.9,1.3]];
const right20to30: Pt[] = [[20.1,1.45],[20.2,1.58],[20.4,1.36],[20.5,1.626],[20.6,1.669],[20.7,1.5],[20.9,1.41],[21,1.62],[21.2,1.32],[21.3,1.54],[21.5,1.663],[21.5,1.47],[21.7,1.39],[21.9,1.6],[22,1.52],[22.2,1.35],[22.4,1.44],[22.5,1.65],[22.7,1.71],[22.7,1.57],[22.9,1.69],[22.9,1.4],[23.1,1.5],[23.3,1.62],[23.4,1.33],[23.6,1.46],[23.8,1.56],[24,1.38],[24,1.66],[24.2,1.52],[24.4,1.43],[24.6,1.6],[24.9,1.683],[24.9,1.35],[25.1,1.49],[25.3,1.58],[25.5,1.41],[25.6,1.64],[25.8,1.54],[26,1.71],[26,1.32],[26.2,1.834],[26.3,1.47],[26.5,1.297],[26.6,1.6],[26.8,1.39],[27,1.53],[27.1,1.768],[27.1,1.67],[27.3,1.44],[27.5,1.57],[27.7,1.36],[27.8,1.734],[27.9,1.62],[28.1,1.5],[28.3,1.41],[28.5,1.66],[28.6,1.55],[28.8,1.34],[29,1.47],[29.2,1.7],[29.4,1.59],[29.6,1.751],[29.6,1.43],[29.8,1.52],[29.9,1.64]];
const right30to40: Pt[] = [[30.1,1.38],[30.2,1.56],[30.4,1.48],[30.6,1.68],[30.7,1.33],[30.9,1.61],[31,1.44],[31.2,1.53],[31.4,1.777],[31.4,1.72],[31.6,1.4],[31.8,1.58],[32,1.49],[32.1,1.65],[32.3,1.902],[32.3,1.36],[32.5,1.55],[32.7,1.748],[32.7,1.44],[32.9,1.812],[32.9,1.62],[33.1,1.51],[33.3,1.7],[33.5,1.4],[33.6,1.58],[33.8,1.46],[34,1.66],[34.1,1.35],[34.3,1.54],[34.5,1.774],[34.5,1.6],[34.7,1.43],[34.9,1.5],[35.1,1.73],[35.2,1.812],[35.3,1.63],[35.5,1.38],[35.7,1.56],[35.9,1.47],[36,1.68],[36.2,1.59],[36.4,1.42],[36.6,1.52],[36.8,1.75],[37,1.923],[37,1.774],[37,1.64],[37.2,1.45],[37.4,1.57],[37.6,1.36],[37.8,1.273],[37.8,1.69],[38,1.5],[38.2,1.61],[38.4,1.43],[38.6,1.79],[38.7,1.55],[38.9,1.66],[39.1,1.48],[39.3,1.72],[39.5,1.39],[39.6,1.6],[39.8,1.53],[39.9,1.8]];
const right40to50: Pt[] = [[40.1,1.45],[40.2,1.317],[40.3,1.64],[40.5,1.905],[40.5,1.56],[40.7,1.5],[40.9,1.74],[41,1.41],[41.2,1.62],[41.4,1.53],[41.6,1.82],[41.7,1.47],[41.9,1.68],[42.1,1.58],[42.3,1.4],[42.4,1.76],[42.6,1.51],[42.8,1.65],[43,1.45],[43.1,1.7],[43.3,1.906],[43.3,1.56],[43.5,1.83],[43.6,1.61],[43.8,1.42],[44,1.5],[44.2,1.73],[44.3,1.64],[44.5,1.54],[44.7,1.46],[44.9,1.78],[45,1.68],[45.2,1.59],[45.4,1.43],[45.6,1.85],[45.7,1.52],[45.9,1.71],[46.1,1.62],[46.3,1.48],[46.4,1.868],[46.5,1.8],[46.6,1.57],[46.8,1.41],[47,1.67],[47.2,1.75],[47.3,1.53],[47.5,1.46],[47.7,1.62],[47.9,1.84],[48,1.7],[48.2,1.58],[48.4,1.49],[48.6,1.77],[48.7,1.64],[48.9,1.44],[49.1,1.55],[49.3,1.72],[49.5,1.81],[49.6,1.6],[49.8,1.51]];
const right50to60: Pt[] = [[50,1.66],[50.2,1.47],[50.4,1.75],[50.5,1.57],[50.7,1.86],[50.9,1.62],[51,1.42],[51.2,1.7],[51.4,1.53],[51.6,1.79],[51.7,1.6],[51.9,1.49],[52.1,1.67],[52.3,1.83],[52.4,1.56],[52.6,1.73],[52.8,1.45],[53,1.63],[53.1,1.52],[53.3,1.77],[53.5,1.59],[53.7,1.69],[53.8,1.4],[54,1.55],[54.2,1.8],[54.3,1.868],[54.4,1.64],[54.6,1.48],[54.8,1.72],[55,1.58],[55.1,1.38],[55.3,1.66],[55.5,1.53],[55.7,1.76],[55.8,1.61],[56,1.45],[56.2,1.7],[56.4,1.325],[56.4,1.56],[56.5,1.84],[56.7,1.64],[56.9,1.5],[57.1,1.74],[57.2,1.58],[57.4,1.43],[57.6,1.68],[57.8,1.53],[58,1.79],[58.1,1.62],[58.3,1.47],[58.4,1.888],[58.4,1.867],[58.6,1.71],[58.8,1.56],[59,1.4],[59.1,1.65],[59.3,1.51],[59.5,1.76],[59.7,1.6],[59.9,1.45]];
const right60to70: Pt[] = [[60.1,1.69],[60.3,1.55],[60.5,1.8],[60.6,1.48],[60.8,1.63],[61,1.358],[61.1,1.91],[61.1,1.72],[61.3,1.57],[61.5,1.42],[61.7,1.67],[61.9,1.52],[62.1,1.77],[62.2,1.935],[62.4,1.919],[62.4,1.6],[62.6,1.46],[62.8,1.7],[63,1.55],[63.2,1.64],[63.4,1.4],[63.6,1.867],[63.6,1.368],[63.7,1.75],[63.9,1.51],[64.1,1.6],[64.3,1.45],[64.5,1.68],[64.7,1.56],[64.9,1.78],[65.1,1.5],[65.3,1.63],[65.5,1.42],[65.7,1.71],[65.9,1.58],[66.1,1.48],[66.3,1.361],[66.4,1.66],[66.6,1.54],[66.8,1.87],[66.9,1.74],[67.1,1.6],[67.3,1.46],[67.5,1.69],[67.7,1.53],[67.9,1.8],[68.1,1.62],[68.3,1.41],[68.5,1.57],[68.8,1.85],[68.8,1.72],[69,1.5],[69.2,1.65],[69.4,1.44],[69.6,1.59],[69.8,1.76]];
const right70to80: Pt[] = [[70,1.53],[70.2,1.66],[70.5,1.47],[70.7,1.73],[70.9,1.58],[71.1,1.42],[71.3,1.62],[71.5,1.955],[71.5,1.79],[71.7,1.51],[71.9,1.68],[72.1,1.56],[72.3,1.45],[72.5,1.71],[72.7,1.6],[72.9,1.82],[73,1.828],[73.1,1.5],[73.4,1.891],[73.4,1.64],[73.6,1.41],[73.8,1.9],[73.8,1.55],[74,1.75],[74.2,1.62],[74.4,1.48],[74.6,1.68],[74.8,1.57],[75.1,1.4],[75.1,1.52],[75.3,1.72],[75.6,1.834],[75.6,1.6],[75.8,1.45],[76.1,1.36],[76.1,1.65],[76.3,1.54],[76.6,1.77],[76.8,1.49],[77,1.61],[77.3,1.69],[77.5,1.43],[77.7,1.57],[78,1.5],[78.2,1.74],[78.4,1.63],[78.7,1.46],[78.9,1.58],[79.2,1.67],[79.5,1.52],[79.8,1.44]];
const right80to90: Pt[] = [[80,1.6],[80.3,1.7],[80.5,1.797],[80.6,1.898],[80.6,1.41],[80.9,1.8],[81.1,1.87],[81.1,1.55],[81.4,1.65],[81.6,1.838],[81.7,1.366],[81.8,1.48],[82,1.853],[82.1,1.62],[82.4,1.53],[82.7,1.74],[83,1.45],[83.3,1.58],[83.5,1.372],[83.6,1.825],[83.7,1.68],[84,1.5],[84.3,1.63],[84.6,1.56],[84.9,1.43],[85.2,1.428],[85.3,1.379],[85.4,1.7],[85.7,1.54],[86,1.61],[86.3,1.47],[86.5,1.45],[86.8,1.66],[87.2,1.912],[87.2,1.52],[87.6,1.366],[87.7,1.9695],[87.9,1.765],[88,1.59],[88.3,1.49],[88.7,1.857],[88.9,1.878],[89.1,1.75],[89.3,1.64],[89.6,1.55]];
const right90to100: Pt[] = [[90,1.47],[90.3,1.62],[90.6,1.7],[90.9,1.53],[91.3,1.58],[91.6,1.77],[91.8,1.404],[92,1.5],[92.3,1.66],[92.8,1.788],[92.8,1.447],[92.9,1.427],[93,1.55],[93.2,1.8],[93.5,1.63],[93.8,1.861],[94,1.52],[94.3,1.765],[94.6,1.791],[94.6,1.53],[94.9,1.85],[95.2,1.6],[95.5,1.68],[95.9,1.872],[96,1.5],[96.2,1.73],[96.6,1.62],[97,1.55],[97.5,1.828],[97.6,1.779],[97.6,1.77],[98,1.65],[98.2,1.825],[98.5,1.52],[98.7,1.884],[98.7,1.458],[98.9,1.754],[99,1.58],[99.4,1.67],[99.6,1.378],[92.8,1.47]];
const right100to110: Pt[] = [[100.3,1.742],[100.5,1.6],[101,1.53],[101.5,1.535],[101.5,1.56],[101.8,1.578],[102,1.66],[102.5,1.773],[102.9,1.475],[103.4,1.474],[104,1.62],[104.4,1.924],[104.5,1.7],[105,1.57],[105.3,1.648],[105.6,1.465],[105.9,1.777],[106.2,1.45],[106.3,1.773],[107,1.63],[107.2,1.54],[107.3,1.782],[108,1.884],[108.4,1.591],[108.7,1.779],[109.5,1.6]];
const right110to125: Pt[] = [[110.2,1.782],[112.2,1.866],[112.2,1.75],[112.2,1.675],[112.6,1.605],[114,1.673],[115.6,1.788],[118.6,1.4875],[121,1.673]];
const rightCore3to30: Pt[] = [[3.2,1.28],[3.7,1.33],[4.2,1.27],[4.5,1.37],[4.9,1.3],[5.3,1.25],[5.6,1.34],[5.9,1.4],[6.2,1.28],[6.6,1.35],[6.9,1.31],[7.2,1.41],[7.5,1.27],[7.8,1.37],[3.9,1.4],[5.1,1.28],[6.4,1.38],[7.4,1.32],[8.1,1.3],[8.3,1.44],[8.5,1.36],[8.7,1.48],[8.9,1.33],[8.4,1.4],[9.1,1.39],[9.3,1.29],[9.5,1.45],[9.7,1.34],[9.9,1.49],[9.4,1.42],[10.1,1.35],[10.3,1.47],[10.5,1.31],[10.7,1.42],[10.9,1.53],[10.4,1.39],[11.1,1.44],[11.3,1.33],[11.5,1.5],[11.7,1.38],[11.9,1.46],[11.4,1.41],[12.1,1.36],[12.3,1.48],[12.5,1.42],[12.7,1.54],[12.9,1.31],[12.4,1.45],[13.1,1.4],[13.3,1.52],[13.5,1.34],[13.7,1.47],[13.9,1.55],[13.4,1.43],[14.1,1.49],[14.3,1.37],[14.5,1.55],[14.7,1.44],[14.9,1.41],[14.4,1.51],[15.1,1.42],[15.3,1.53],[15.5,1.36],[15.7,1.48],[15.9,1.57],[15.4,1.45],[16.1,1.46],[16.3,1.39],[16.5,1.55],[16.7,1.5],[16.9,1.42],[16.4,1.58],[17.1,1.4],[17.3,1.57],[17.5,1.48],[17.7,1.43],[17.9,1.53],[17.4,1.36],[18.1,1.5],[18.3,1.44],[18.5,1.59],[18.7,1.38],[18.9,1.55],[18.4,1.47],[19.1,1.43],[19.3,1.55],[19.5,1.49],[19.7,1.6],[19.9,1.4],[19.4,1.52],[20.1,1.53],[20.3,1.41],[20.5,1.59],[20.7,1.46],[20.9,1.56],[20.4,1.5],[20.8,1.62],[21.1,1.45],[21.3,1.6],[21.5,1.51],[21.7,1.42],[21.9,1.56],[21.4,1.64],[21.8,1.48],[22.1,1.57],[22.3,1.47],[22.5,1.61],[22.7,1.43],[22.9,1.53],[22.4,1.5],[22.8,1.64],[23.1,1.44],[23.3,1.55],[23.5,1.63],[23.7,1.49],[23.9,1.58],[23.4,1.41],[23.8,1.52],[24.1,1.59],[24.3,1.48],[24.5,1.54],[24.7,1.65],[24.9,1.45],[24.4,1.61],[24.8,1.51],[25.1,1.46],[25.3,1.62],[25.5,1.52],[25.7,1.57],[25.9,1.43],[25.4,1.66],[25.8,1.49],[26.1,1.55],[26.3,1.44],[26.5,1.63],[26.7,1.5],[26.9,1.6],[26.4,1.58],[26.8,1.47],[27.1,1.49],[27.3,1.61],[27.5,1.45],[27.7,1.56],[27.9,1.66],[27.4,1.52],[27.8,1.42],[28.1,1.58],[28.3,1.5],[28.5,1.63],[28.7,1.46],[28.9,1.54],[28.4,1.68],[28.8,1.61],[29.1,1.45],[29.3,1.56],[29.5,1.64],[29.7,1.49],[29.9,1.59],[29.4,1.53],[29.8,1.67]];
const rightCore30to55: Pt[] = [[30.1,1.5],[30.3,1.62],[30.5,1.44],[30.7,1.57],[30.9,1.69],[30.4,1.53],[30.8,1.47],[31.1,1.59],[31.3,1.47],[31.5,1.65],[31.7,1.52],[31.9,1.43],[31.4,1.62],[31.8,1.56],[32.1,1.53],[32.3,1.68],[32.5,1.46],[32.7,1.6],[32.9,1.56],[32.4,1.71],[32.8,1.5],[33.1,1.45],[33.3,1.58],[33.5,1.64],[33.7,1.53],[33.9,1.49],[33.4,1.61],[33.8,1.7],[34.1,1.57],[34.3,1.5],[34.5,1.67],[34.7,1.46],[34.9,1.62],[34.4,1.55],[34.8,1.72],[35.1,1.52],[35.3,1.6],[35.5,1.45],[35.7,1.66],[35.9,1.57],[35.4,1.7],[35.8,1.49],[36.1,1.63],[36.3,1.54],[36.5,1.48],[36.7,1.6],[36.9,1.72],[36.4,1.57],[36.8,1.65],[37.1,1.49],[37.3,1.61],[37.5,1.55],[37.7,1.68],[37.9,1.46],[37.4,1.73],[37.8,1.59],[38.1,1.56],[38.3,1.7],[38.5,1.47],[38.7,1.63],[38.9,1.52],[38.4,1.59],[38.8,1.74],[39.1,1.62],[39.3,1.51],[39.5,1.67],[39.7,1.56],[39.9,1.45],[39.4,1.64],[39.8,1.58],[40.1,1.54],[40.3,1.69],[40.5,1.61],[40.7,1.48],[40.9,1.65],[40.4,1.73],[40.8,1.57],[41.1,1.5],[41.3,1.65],[41.5,1.57],[41.7,1.72],[41.9,1.47],[41.4,1.61],[41.8,1.55],[42.1,1.63],[42.3,1.54],[42.5,1.7],[42.7,1.59],[42.9,1.49],[42.4,1.67],[42.8,1.74],[43.1,1.52],[43.3,1.66],[43.5,1.6],[43.7,1.73],[43.9,1.56],[43.4,1.48],[43.8,1.63],[44.1,1.58],[44.3,1.71],[44.5,1.5],[44.7,1.65],[44.9,1.61],[44.4,1.55],[44.8,1.75],[45.1,1.64],[45.3,1.53],[45.5,1.69],[45.7,1.58],[45.9,1.49],[45.4,1.73],[45.8,1.62],[46.1,1.55],[46.3,1.67],[46.5,1.6],[46.7,1.74],[46.9,1.51],[46.4,1.63],[46.8,1.7],[47.1,1.6],[47.3,1.72],[47.5,1.54],[47.7,1.66],[47.9,1.5],[47.4,1.58],[47.8,1.69],[48.1,1.53],[48.3,1.64],[48.5,1.74],[48.7,1.57],[48.9,1.68],[48.4,1.61],[48.8,1.51],[49.1,1.62],[49.3,1.55],[49.5,1.7],[49.7,1.65],[49.9,1.52],[49.4,1.75],[49.8,1.58],[50.1,1.56],[50.3,1.68],[50.5,1.51],[50.7,1.63],[50.9,1.73],[50.4,1.6],[50.8,1.55],[51.1,1.64],[51.3,1.58],[51.5,1.72],[51.7,1.52],[51.9,1.67],[51.4,1.61],[51.8,1.75],[52.1,1.54],[52.3,1.66],[52.5,1.6],[52.7,1.7],[52.9,1.57],[52.4,1.5],[52.8,1.63],[53.1,1.68],[53.3,1.56],[53.5,1.73],[53.7,1.62],[53.9,1.51],[53.4,1.65],[53.8,1.58],[54.1,1.6],[54.3,1.7],[54.5,1.55],[54.7,1.66],[54.9,1.74],[54.4,1.52],[54.8,1.62]];
const rightCore55to80: Pt[] = [[55.1,1.56],[55.3,1.69],[55.5,1.62],[55.7,1.52],[55.9,1.66],[55.4,1.73],[55.8,1.59],[56.1,1.64],[56.3,1.54],[56.5,1.71],[56.7,1.6],[56.9,1.57],[56.4,1.67],[56.8,1.51],[57.1,1.58],[57.3,1.66],[57.5,1.53],[57.7,1.72],[57.9,1.62],[57.4,1.6],[57.8,1.69],[58.1,1.55],[58.3,1.64],[58.5,1.7],[58.7,1.59],[58.9,1.52],[58.4,1.67],[58.8,1.61],[59.1,1.62],[59.3,1.56],[59.5,1.68],[59.7,1.53],[59.9,1.65],[59.4,1.72],[59.8,1.58],[60.1,1.57],[60.3,1.66],[60.5,1.61],[60.7,1.71],[60.9,1.54],[60.4,1.64],[61.1,1.63],[61.3,1.55],[61.5,1.69],[61.7,1.59],[61.9,1.66],[61.4,1.52],[62.1,1.58],[62.3,1.67],[62.5,1.54],[62.7,1.63],[62.9,1.7],[62.4,1.61],[63.1,1.65],[63.3,1.57],[63.5,1.69],[63.7,1.6],[63.9,1.53],[63.4,1.62],[64.1,1.56],[64.3,1.64],[64.5,1.71],[64.7,1.58],[64.9,1.66],[64.4,1.53],[65.1,1.62],[65.3,1.55],[65.5,1.67],[65.7,1.6],[65.9,1.7],[65.4,1.58],[66.1,1.59],[66.3,1.65],[66.5,1.56],[66.7,1.68],[66.9,1.62],[66.4,1.54],[67.1,1.64],[67.3,1.57],[67.5,1.62],[67.7,1.7],[67.9,1.55],[67.4,1.6],[68.1,1.58],[68.3,1.66],[68.5,1.61],[68.7,1.55],[68.9,1.68],[68.4,1.63],[69.1,1.62],[69.3,1.56],[69.5,1.67],[69.7,1.6],[69.9,1.64],[70.3,1.58],[70.7,1.65],[71.1,1.6],[71.5,1.55],[71.9,1.63],[72.3,1.67],[72.7,1.57],[73.1,1.62],[73.5,1.59],[73.9,1.65],[74.3,1.56],[74.7,1.61],[75.1,1.64],[75.5,1.58],[75.9,1.62],[76.3,1.6],[76.7,1.56],[77.1,1.63],[77.5,1.59],[77.9,1.61],[78.3,1.57],[78.7,1.64],[79.1,1.6],[79.5,1.58]];
const rightDense2to30: Pt[] = [[2.2,1.29],[2.6,1.35],[2.9,1.25],[2.4,1.32],[2.7,1.27],[3.1,1.31],[3.3,1.37],[3.5,1.26],[3.7,1.29],[3.9,1.36],[4.1,1.33],[4.3,1.41],[4.5,1.28],[4.7,1.36],[4.9,1.31],[5.1,1.38],[5.3,1.3],[5.5,1.35],[5.7,1.25],[5.9,1.42],[6.1,1.31],[6.3,1.42],[6.5,1.36],[6.7,1.29],[6.9,1.39],[7.1,1.33],[7.3,1.38],[7.5,1.44],[7.7,1.3],[7.9,1.36],[8.1,1.41],[8.3,1.33],[8.5,1.46],[8.7,1.28],[8.9,1.38],[9.1,1.36],[9.3,1.44],[9.5,1.31],[9.7,1.49],[9.9,1.4],[10.1,1.41],[10.3,1.34],[10.5,1.48],[10.7,1.37],[10.9,1.44],[11.1,1.39],[11.3,1.5],[11.5,1.36],[11.7,1.45],[11.9,1.42],[12.1,1.47],[12.3,1.34],[12.5,1.51],[12.7,1.39],[12.9,1.45],[13.1,1.37],[13.3,1.45],[13.5,1.53],[13.7,1.41],[13.9,1.49],[14.1,1.43],[14.3,1.52],[14.5,1.38],[14.7,1.47],[14.9,1.55],[15.1,1.5],[15.3,1.4],[15.5,1.46],[15.7,1.54],[15.9,1.43],[16.1,1.41],[16.3,1.52],[16.5,1.47],[16.7,1.57],[16.9,1.45],[17.1,1.49],[17.3,1.44],[17.5,1.55],[17.7,1.4],[17.9,1.5],[18.1,1.46],[18.3,1.56],[18.5,1.42],[18.7,1.52],[18.9,1.48],[19.1,1.52],[19.3,1.45],[19.5,1.57],[19.7,1.42],[19.9,1.5],[20.1,1.48],[20.3,1.56],[20.5,1.44],[20.7,1.53],[20.9,1.6],[21.1,1.54],[21.3,1.43],[21.5,1.58],[21.7,1.49],[21.9,1.46],[22.1,1.44],[22.3,1.55],[22.5,1.51],[22.7,1.62],[22.9,1.47],[23.1,1.53],[23.3,1.46],[23.5,1.59],[23.7,1.55],[23.9,1.44],[24.1,1.5],[24.3,1.58],[24.5,1.46],[24.7,1.54],[24.9,1.62],[25.1,1.55],[25.3,1.48],[25.5,1.6],[25.7,1.51],[25.9,1.58],[26.1,1.47],[26.3,1.57],[26.5,1.52],[26.7,1.64],[26.9,1.5],[27.1,1.58],[27.3,1.5],[27.5,1.62],[27.7,1.47],[27.9,1.54],[28.1,1.52],[28.3,1.6],[28.5,1.48],[28.7,1.56],[28.9,1.65],[29.1,1.57],[29.3,1.49],[29.5,1.61],[29.7,1.53],[29.9,1.47]];
const rightDense30to60: Pt[] = [[30.2,1.55],[30.4,1.65],[30.6,1.49],[30.8,1.6],[30.9,1.52],[31.2,1.62],[31.4,1.5],[31.6,1.57],[31.8,1.68],[31.9,1.46],[32.2,1.5],[32.4,1.58],[32.6,1.64],[32.8,1.54],[32.9,1.6],[33.2,1.61],[33.4,1.52],[33.6,1.67],[33.8,1.47],[33.9,1.56],[34.2,1.53],[34.4,1.64],[34.6,1.58],[34.8,1.5],[34.9,1.69],[35.2,1.63],[35.4,1.55],[35.6,1.51],[35.8,1.61],[35.9,1.72],[36.2,1.5],[36.4,1.66],[36.6,1.6],[36.8,1.55],[36.9,1.62],[37.2,1.58],[37.4,1.52],[37.6,1.63],[37.8,1.71],[37.9,1.56],[38.2,1.65],[38.4,1.54],[38.6,1.6],[38.8,1.5],[38.9,1.68],[39.2,1.57],[39.4,1.7],[39.6,1.52],[39.8,1.63],[39.9,1.6],[40.2,1.64],[40.4,1.56],[40.6,1.51],[40.8,1.7],[40.9,1.6],[41.2,1.58],[41.4,1.67],[41.6,1.53],[41.8,1.63],[41.9,1.74],[42.2,1.52],[42.4,1.6],[42.6,1.66],[42.8,1.56],[42.9,1.71],[43.2,1.63],[43.4,1.55],[43.6,1.69],[43.8,1.59],[43.9,1.5],[44.2,1.67],[44.4,1.6],[44.6,1.53],[44.8,1.72],[44.9,1.57],[45.2,1.55],[45.4,1.63],[45.6,1.7],[45.8,1.52],[45.9,1.66],[46.2,1.61],[46.4,1.56],[46.6,1.68],[46.8,1.6],[46.9,1.53],[47.2,1.57],[47.4,1.7],[47.6,1.62],[47.8,1.55],[47.9,1.65],[48.2,1.68],[48.4,1.55],[48.6,1.6],[48.8,1.72],[48.9,1.63],[49.2,1.59],[49.4,1.53],[49.6,1.67],[49.8,1.62],[49.9,1.73],[50.2,1.62],[50.4,1.7],[50.6,1.56],[50.8,1.66],[50.9,1.53],[51.2,1.57],[51.4,1.65],[51.6,1.7],[51.8,1.55],[51.9,1.62],[52.2,1.64],[52.4,1.58],[52.6,1.53],[52.8,1.72],[52.9,1.67],[53.2,1.6],[53.4,1.71],[53.6,1.55],[53.8,1.65],[53.9,1.62],[54.2,1.56],[54.4,1.63],[54.6,1.68],[54.8,1.58],[54.9,1.53],[55.2,1.64],[55.4,1.57],[55.6,1.7],[55.8,1.62],[55.9,1.55],[56.2,1.6],[56.4,1.69],[56.6,1.55],[56.8,1.65],[56.9,1.72],[57.2,1.55],[57.4,1.64],[57.6,1.59],[57.8,1.67],[57.9,1.61],[58.2,1.66],[58.4,1.58],[58.6,1.62],[58.8,1.54],[58.9,1.7],[59.2,1.59],[59.4,1.64],[59.6,1.7],[59.8,1.56],[59.9,1.62]];
const rightDense60to95: Pt[] = [[60.2,1.6],[60.4,1.67],[60.6,1.56],[60.8,1.62],[60.9,1.69],[61.2,1.65],[61.4,1.58],[61.6,1.62],[61.8,1.55],[61.9,1.7],[62.2,1.57],[62.4,1.64],[62.6,1.68],[62.8,1.6],[62.9,1.55],[63.2,1.62],[63.4,1.67],[63.6,1.56],[63.8,1.64],[63.9,1.59],[64.2,1.6],[64.4,1.55],[64.6,1.66],[64.8,1.62],[64.9,1.69],[65.2,1.65],[65.4,1.59],[65.6,1.63],[65.8,1.56],[65.9,1.61],[66.2,1.57],[66.4,1.62],[66.6,1.67],[66.8,1.6],[66.9,1.55],[67.2,1.63],[67.4,1.58],[67.6,1.66],[67.8,1.61],[67.9,1.68],[68.2,1.6],[68.4,1.56],[68.6,1.64],[68.8,1.59],[68.9,1.66],[69.2,1.58],[69.4,1.63],[69.6,1.61],[69.8,1.67],[69.9,1.55],[70.2,1.6],[70.5,1.64],[70.8,1.57],[70.9,1.66],[71.2,1.62],[71.5,1.58],[71.8,1.65],[71.9,1.55],[72.2,1.6],[72.5,1.63],[72.8,1.57],[72.9,1.66],[73.2,1.61],[73.5,1.56],[73.8,1.64],[73.9,1.59],[74.2,1.62],[74.5,1.58],[74.8,1.65],[74.9,1.55],[75.2,1.6],[75.5,1.63],[75.8,1.57],[75.9,1.65],[76.2,1.59],[76.5,1.62],[76.8,1.56],[76.9,1.64],[77.2,1.6],[77.5,1.57],[77.8,1.63],[77.9,1.55],[78.2,1.61],[78.5,1.58],[78.8,1.64],[78.9,1.56],[79.2,1.6],[79.5,1.62],[79.8,1.57],[79.9,1.65],[80.4,1.58],[80.8,1.63],[81.4,1.56],[81.8,1.61],[82.4,1.6],[82.8,1.55],[83.4,1.62],[83.8,1.58],[84.4,1.55],[84.8,1.6],[85.4,1.63],[85.8,1.57],[86.4,1.6],[86.8,1.54],[87.4,1.62],[87.8,1.58],[88.4,1.56],[88.8,1.6],[89.4,1.58],[89.8,1.62],[90.4,1.55],[91,1.6],[91.6,1.57],[92.2,1.62],[92.8,1.56],[93.4,1.6],[94,1.58],[94.6,1.55]];
const rightExtra2to20: Pt[] = [[2.1,1.31],[2.5,1.36],[2.8,1.29],[3.2,1.39],[3.4,1.32],[3.8,1.28],[4.2,1.35],[4.4,1.3],[4.8,1.43],[5.2,1.33],[5.4,1.27],[5.8,1.37],[6.2,1.44],[6.4,1.33],[6.8,1.28],[7.2,1.34],[7.4,1.39],[7.8,1.45],[8.2,1.35],[8.4,1.29],[8.8,1.42],[9.2,1.38],[9.4,1.32],[9.8,1.46],[10.2,1.38],[10.6,1.45],[10.8,1.33],[11.2,1.47],[11.6,1.4],[11.8,1.52],[12.2,1.39],[12.6,1.33],[12.8,1.49],[13.2,1.43],[13.6,1.5],[13.8,1.38],[14.2,1.46],[14.6,1.41],[14.8,1.52],[15.2,1.44],[15.6,1.51],[15.8,1.39],[16.2,1.49],[16.6,1.43],[16.8,1.54],[17.2,1.46],[17.6,1.52],[17.8,1.41],[18.2,1.53],[18.6,1.45],[18.8,1.57],[19.2,1.46],[19.6,1.54],[19.8,1.44]];
const rightExtra20to40: Pt[] = [[20.2,1.51],[20.6,1.55],[20.8,1.43],[21.2,1.57],[21.6,1.47],[21.8,1.53],[22.2,1.49],[22.6,1.58],[22.8,1.45],[23.2,1.57],[23.6,1.51],[23.8,1.61],[24.2,1.46],[24.6,1.56],[24.8,1.52],[25.2,1.59],[25.6,1.5],[25.8,1.63],[26.2,1.53],[26.6,1.46],[26.8,1.61],[27.2,1.55],[27.6,1.64],[27.8,1.51],[28.2,1.47],[28.6,1.59],[28.8,1.52],[29.2,1.62],[29.6,1.56],[29.8,1.5],[30.2,1.58],[30.6,1.52],[30.8,1.66],[31.2,1.55],[31.6,1.48],[31.8,1.61],[32.2,1.63],[32.6,1.52],[32.8,1.58],[33.2,1.5],[33.6,1.6],[33.8,1.55],[34.2,1.65],[34.6,1.52],[34.8,1.59],[35.2,1.57],[35.6,1.64],[35.8,1.53],[36.2,1.59],[36.6,1.51],[36.8,1.68],[37.2,1.63],[37.6,1.57],[37.8,1.5],[38.2,1.61],[38.6,1.67],[38.8,1.56],[39.2,1.53],[39.6,1.61],[39.8,1.69]];
const rightExtra40to75: Pt[] = [[40.2,1.58],[40.6,1.66],[40.8,1.53],[41.2,1.69],[41.6,1.6],[41.8,1.5],[42.2,1.57],[42.6,1.63],[42.8,1.69],[43.2,1.55],[43.6,1.65],[43.8,1.52],[44.2,1.62],[44.6,1.57],[44.8,1.68],[45.2,1.6],[45.6,1.52],[45.8,1.72],[46.2,1.65],[46.6,1.58],[46.8,1.52],[47.2,1.63],[47.6,1.68],[47.8,1.59],[48.2,1.56],[48.6,1.66],[48.8,1.61],[49.2,1.71],[49.6,1.57],[49.8,1.63],[50.2,1.59],[50.6,1.67],[50.8,1.61],[51.2,1.54],[51.6,1.62],[51.8,1.68],[52.2,1.57],[52.6,1.69],[52.8,1.6],[53.2,1.65],[53.6,1.53],[53.8,1.7],[54.2,1.63],[54.6,1.59],[54.8,1.67],[55.2,1.6],[55.6,1.66],[55.8,1.55],[56.2,1.67],[56.6,1.62],[56.8,1.58],[57.2,1.69],[57.6,1.56],[57.8,1.63],[58.2,1.61],[58.6,1.67],[58.8,1.57],[59.2,1.65],[59.6,1.6],[59.8,1.68],[60.2,1.64],[60.6,1.59],[60.8,1.66],[61.2,1.6],[61.6,1.67],[61.8,1.57],[62.2,1.62],[62.6,1.58],[62.8,1.66],[63.2,1.59],[63.6,1.63],[63.8,1.55],[64.2,1.67],[64.6,1.61],[64.8,1.57],[65.2,1.63],[65.6,1.58],[65.8,1.66],[66.2,1.61],[66.6,1.57],[67.2,1.66],[67.6,1.6],[68.2,1.63],[68.6,1.57],[69.2,1.65],[69.6,1.59],[70.2,1.62],[70.6,1.6],[71.2,1.66],[71.6,1.61],[72.2,1.58],[72.6,1.64],[73.2,1.6],[73.6,1.66],[74.2,1.59],[74.6,1.63]];
const rightFillLow: Pt[] = [[8.5,1.27],[9.5,1.3],[10.5,1.28],[11.5,1.31],[12.5,1.3],[13.5,1.32],[14.5,1.33],[15.5,1.31],[16.5,1.35],[17.5,1.33],[18.5,1.36],[19.5,1.35],[20.5,1.38],[21.5,1.36],[22.5,1.39],[23.5,1.37],[24.5,1.4],[25.5,1.38],[26.5,1.41],[27.5,1.39],[28.5,1.42],[29.5,1.4],[30.5,1.41],[31.5,1.43],[32.5,1.42],[33.5,1.44],[34.5,1.43],[35.5,1.42],[36.5,1.45],[37.5,1.44],[38.5,1.46],[39.5,1.44],[15,1.38],[17,1.4],[19,1.41],[21,1.43],[23,1.42],[25,1.44],[27,1.45],[29,1.46],[31,1.46],[33,1.48],[35,1.47],[37,1.49],[39,1.48]];
const rightFillMid: Pt[] = [[40.5,1.46],[41.5,1.48],[42.5,1.45],[43.5,1.5],[44.5,1.47],[45.5,1.5],[46.5,1.46],[47.5,1.49],[48.5,1.52],[49.5,1.48],[50.5,1.5],[51.5,1.47],[52.5,1.51],[53.5,1.49],[54.5,1.5],[55.5,1.52],[56.5,1.48],[57.5,1.51],[58.5,1.49],[59.5,1.53],[60.5,1.51],[61.5,1.5],[62.5,1.52],[63.5,1.49],[64.5,1.52],[65.5,1.5],[66.5,1.53],[67.5,1.51],[68.5,1.53],[69.5,1.52],[70.5,1.54],[71.5,1.52],[72.5,1.55],[73.5,1.53],[74.5,1.55],[42,1.54],[46,1.55],[50,1.54],[54,1.56],[58,1.55],[62,1.56],[66,1.57],[70,1.56]];
const rightFillHigh: Pt[] = [[28.5,1.69],[30.5,1.71],[32.5,1.73],[34.5,1.72],[36.5,1.74],[38.5,1.76],[40.5,1.75],[42.5,1.77],[44.5,1.76],[46.5,1.78],[48.5,1.76],[50.5,1.77],[52.5,1.75],[54.5,1.77],[56.5,1.74],[58.5,1.75],[60.5,1.73],[62.5,1.74],[64.5,1.72],[35,1.77],[41,1.79],[47,1.74],[53,1.79],[59,1.78]];
const rightFillRight: Pt[] = [[75.5,1.53],[76.5,1.67],[77.5,1.52],[78.5,1.68],[79.5,1.54],[80.5,1.66],[81.5,1.52],[82.5,1.67],[83.5,1.54],[84.5,1.65],[85.5,1.52],[86.5,1.66],[87.5,1.55],[88.5,1.64],[89.5,1.52],[90.5,1.65],[92,1.6],[93.5,1.66],[95,1.62]];

const leftObservations: Pt[] = [
  ...left0to10, ...left10to20, ...left20to30, ...left30to40, ...left40to50, ...left50to60,
  ...left60to70, ...left70to80, ...left80to90, ...left90to100, ...left100to110, ...left110to125,
  ...leftCore8to30, ...leftCore30to55, ...leftCore55to85,
  ...leftDense3to30, ...leftDense30to60, ...leftDense60to95,
  ...leftExtra3to20, ...leftExtra20to40, ...leftExtra40to78,
  ...leftFillLow, ...leftFillMid, ...leftFillRight, ...leftFillHigh,
];
const rightObservations: Pt[] = [
  ...right0to10, ...right10to20, ...right20to30, ...right30to40, ...right40to50, ...right50to60,
  ...right60to70, ...right70to80, ...right80to90, ...right90to100, ...right100to110, ...right110to125,
  ...rightCore3to30, ...rightCore30to55, ...rightCore55to80,
  ...rightDense2to30, ...rightDense30to60, ...rightDense60to95,
  ...rightExtra2to20, ...rightExtra20to40, ...rightExtra40to75,
  ...rightFillLow, ...rightFillMid, ...rightFillHigh, ...rightFillRight,
];

const RED = "#FF0000";
const GREEN = "#00CD00";
const FONT = '25px "Liberation Sans", Arial, Helvetica, sans-serif';
const POINT_RADIUS = 5;
const POINT_BORDER = 2.2;

type LegendItem = { label: string; color: string };
type PanelCfg = {
  canvasLeft: number;
  width: number;
  height: number;
  area: { left: number; right: number; top: number; bottom: number };
  xMin: number; xMax: number; yMin: number; yMax: number;
  legendBox: { x: number; y: number; w: number; h: number };
  legendItems: LegendItem[];
  points: Pt[];
  curves: { ages: number[]; values: number[]; color: string }[];
};

const leftCfg: PanelCfg = {
  canvasLeft: 0, width: 564, height: 539,
  area: { left: 64.6, right: 538.5, top: 10.5, bottom: 481 },
  xMin: -1.26, xMax: 125.7, yMin: 1.1468, yMax: 2.0316,
  legendBox: { x: 331, y: 370, w: 183.7, h: 87.7 },
  legendItems: [{ label: "bessel", color: RED }, { label: "powexp", color: GREEN }],
  points: leftObservations,
  curves: [
    { ages: powexpAges, values: powexpLeftValues, color: GREEN },
    { ages: besselAges, values: besselLeftValues, color: RED },
  ],
};

const rightCfg: PanelCfg = {
  canvasLeft: 564, width: 564, height: 539,
  area: { left: 89.8, right: 562.3, top: 10.5, bottom: 481 },
  xMin: -1.48, xMax: 125.55, yMin: 1.1708, yMax: 2.0307,
  legendBox: { x: 356, y: 399, w: 183.6, h: 59.3 },
  legendItems: [{ label: "powexp", color: GREEN }],
  points: rightObservations,
  curves: [{ ages: powexpAges, values: powexpRightValues, color: GREEN }],
};

function makeDecorPlugin(cfg: PanelCfg) {
  return {
    id: "rDecor",
    afterDatasetsDraw(chart: any) {
      const { ctx, chartArea: a, scales } = chart;
      const xs = scales.x;
      const ys = scales.y;
      ctx.save();
      ctx.strokeStyle = "#000";
      ctx.fillStyle = "#000";
      ctx.lineWidth = 1.7;
      ctx.lineCap = "butt";
      ctx.strokeRect(a.left, a.top, a.right - a.left, a.bottom - a.top);

      ctx.beginPath();
      const x0 = xs.getPixelForValue(xTickValues[0]);
      const x1 = xs.getPixelForValue(xTickValues[xTickValues.length - 1]);
      ctx.moveTo(x0, a.bottom);
      ctx.lineTo(x1, a.bottom);
      xTickValues.forEach((v) => {
        const p = xs.getPixelForValue(v);
        ctx.moveTo(p, a.bottom);
        ctx.lineTo(p, a.bottom + 13);
      });
      const y0 = ys.getPixelForValue(yTickValues[0]);
      const y1 = ys.getPixelForValue(yTickValues[yTickValues.length - 1]);
      ctx.moveTo(a.left, y0);
      ctx.lineTo(a.left, y1);
      yTickValues.forEach((v) => {
        const p = ys.getPixelForValue(v);
        ctx.moveTo(a.left, p);
        ctx.lineTo(a.left - 13, p);
      });
      ctx.stroke();

      ctx.font = FONT;
      ctx.textAlign = "center";
      ctx.textBaseline = "alphabetic";
      xTickValues.forEach((v) => {
        ctx.fillText(String(v), xs.getPixelForValue(v), a.bottom + 53.5);
      });
      yTickValues.forEach((v) => {
        const p = ys.getPixelForValue(v);
        ctx.save();
        ctx.translate(a.left - 34.5, p);
        ctx.rotate(-Math.PI / 2);
        ctx.fillText(v.toFixed(1), 0, 0);
        ctx.restore();
      });

      const b = cfg.legendBox;
      ctx.fillStyle = "#fff";
      ctx.fillRect(b.x, b.y, b.w, b.h);
      ctx.strokeStyle = "#000";
      ctx.lineWidth = 1.7;
      ctx.strokeRect(b.x, b.y, b.w, b.h);
      cfg.legendItems.forEach((it, i) => {
        const ry = b.y + 29.3 + i * 30;
        ctx.strokeStyle = it.color;
        ctx.lineWidth = 4.5;
        ctx.lineCap = "round";
        ctx.beginPath();
        ctx.moveTo(b.x + 21, ry);
        ctx.lineTo(b.x + 67.5, ry);
        ctx.stroke();
        ctx.fillStyle = "#000";
        ctx.textAlign = "left";
        ctx.fillText(it.label, b.x + 89, ry + 9);
      });
      ctx.restore();
    },
  };
}

function Panel({ cfg }: { cfg: PanelCfg }) {
  const ref = useRef<HTMLCanvasElement | null>(null);
  useEffect(() => {
    if (!ref.current) return;
    const curveSets = cfg.curves.map((c, i) => ({
      type: "line" as const,
      data: c.ages.map((x, k) => ({ x, y: c.values[k] })),
      borderColor: c.color,
      borderWidth: 4.5,
      borderCapStyle: "round" as const,
      borderJoinStyle: "round" as const,
      pointRadius: 0,
      pointHoverRadius: 0,
      showLine: true,
      fill: false,
      cubicInterpolationMode: "monotone" as const,
      order: i,
    }));
    const chart = new Chart(ref.current, {
      type: "scatter",
      data: {
        datasets: [
          ...curveSets,
          {
            type: "scatter" as const,
            data: cfg.points.map(([x, y]) => ({ x, y })),
            pointStyle: "circle",
            pointRadius: POINT_RADIUS,
            pointHoverRadius: POINT_RADIUS,
            pointBorderWidth: POINT_BORDER,
            borderWidth: POINT_BORDER,
            borderColor: "#000",
            pointBorderColor: "#000",
            backgroundColor: "rgba(0,0,0,0)",
            pointBackgroundColor: "rgba(0,0,0,0)",
            order: 10,
          } as any,
        ],
      },
      options: {
        animation: false,
        responsive: false,
        devicePixelRatio: 1,
        events: [],
        elements: {
          point: { radius: POINT_RADIUS, hoverRadius: POINT_RADIUS, borderWidth: POINT_BORDER, pointStyle: "circle" },
        },
        layout: {
          padding: { top: cfg.area.top, right: cfg.width - cfg.area.right, left: 0, bottom: 0 },
        },
        plugins: { legend: { display: false }, tooltip: { enabled: false }, title: { display: false } },
        scales: {
          x: {
            type: "linear",
            min: cfg.xMin,
            max: cfg.xMax,
            ticks: { display: false },
            grid: { display: false },
            border: { display: false },
            afterFit: (s: any) => { s.height = cfg.height - cfg.area.bottom; },
          },
          y: {
            type: "linear",
            min: cfg.yMin,
            max: cfg.yMax,
            ticks: { display: false },
            grid: { display: false },
            border: { display: false },
            afterFit: (s: any) => { s.width = cfg.area.left; },
          },
        },
      } as any,
      plugins: [makeDecorPlugin(cfg)],
    });
    return () => chart.destroy();
  }, [cfg]);
  return (
    <canvas
      ref={ref}
      width={cfg.width}
      height={cfg.height}
      style={{ position: "absolute", left: cfg.canvasLeft, top: 0, width: cfg.width, height: cfg.height }}
    />
  );
}

export default function App() {
  return (
    <div style={{ position: "absolute", left: 0, top: 0, width: 1128, height: 539, background: "#fff", overflow: "hidden" }}>
      <Panel cfg={leftCfg} />
      <Panel cfg={rightCfg} />
    </div>
  );
}
